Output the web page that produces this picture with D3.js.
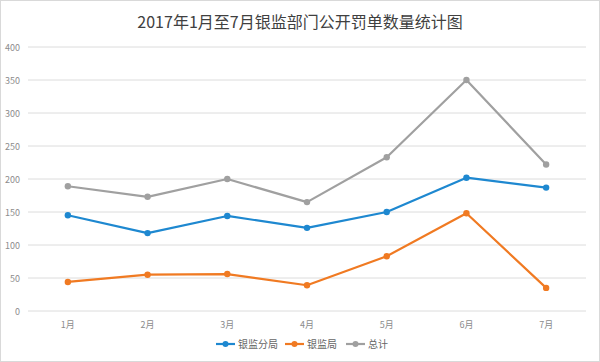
<!DOCTYPE html>
<html>
<head>
<meta charset="utf-8">
<script src="https://cdn.jsdelivr.net/npm/d3@7"></script>
<style>
  body { margin: 0; background: #fff; }
  svg { display: block; font-family: "Noto Sans CJK SC", "Noto Sans", sans-serif; }
</style>
</head>
<body>
<div id="chart"></div>
<script>
const months = ["1月", "2月", "3月", "4月", "5月", "6月", "7月"];
const fenju = [145, 118, 144, 126, 150, 202, 187];
const jianju = [44, 55, 56, 39, 83, 148, 35];
const total = [189, 173, 200, 165, 233, 350, 222];
const yTicks = [0, 50, 100, 150, 200, 250, 300, 350, 400];

const series = [
  { name: "银监分局", values: fenju, color: "#1e88d0" },
  { name: "银监局", values: jianju, color: "#f07a22" },
  { name: "总计", values: total, color: "#a0a0a0" }
];

const width = 600;
const height = 362;
const margin = { top: 47, right: 14, bottom: 51, left: 28 };

const svg = d3.select("#chart")
  .append("svg")
  .attr("width", width)
  .attr("height", height);

// frame
svg.append("rect")
  .attr("x", 0.5).attr("y", 0.5)
  .attr("width", width - 1).attr("height", height - 1)
  .attr("fill", "#fff")
  .attr("stroke", "#d9d9d9");

svg.append("text")
  .attr("x", width / 2)
  .attr("y", 28)
  .attr("text-anchor", "middle")
  .attr("font-size", 16)
  .attr("fill", "#404040")
  .text("2017年1月至7月银监部门公开罚单数量统计图");

const x = d3.scaleBand()
  .domain(months)
  .range([margin.left, width - margin.right]);

const y = d3.scaleLinear()
  .domain([0, 400])
  .range([height - margin.bottom, margin.top]);

// gridlines
svg.append("g")
  .selectAll("line")
  .data(yTicks)
  .enter()
  .append("line")
  .attr("x1", margin.left)
  .attr("x2", width - margin.right)
  .attr("y1", d => y(d))
  .attr("y2", d => y(d))
  .attr("stroke", "#dcdcdc")
  .attr("stroke-width", 1);

// y labels
svg.append("g")
  .selectAll("text")
  .data(yTicks)
  .enter()
  .append("text")
  .attr("x", 20)
  .attr("y", d => y(d) + 3.5)
  .attr("text-anchor", "end")
  .attr("font-size", 9)
  .attr("fill", "#8c8c8c")
  .text(d => d);

// x labels
svg.append("g")
  .selectAll("text")
  .data(months)
  .enter()
  .append("text")
  .attr("x", d => x(d) + x.bandwidth() / 2)
  .attr("y", height - margin.bottom + 17)
  .attr("text-anchor", "middle")
  .attr("font-size", 9)
  .attr("fill", "#8c8c8c")
  .text(d => d);

const line = d3.line()
  .x((d, i) => x(months[i]) + x.bandwidth() / 2)
  .y(d => y(d));

series.forEach(s => {
  const g = svg.append("g");
  g.append("path")
    .attr("d", line(s.values))
    .attr("fill", "none")
    .attr("stroke", s.color)
    .attr("stroke-width", 2.2)
    .attr("stroke-linejoin", "round");
  g.selectAll("circle")
    .data(s.values)
    .enter()
    .append("circle")
    .attr("cx", (d, i) => x(months[i]) + x.bandwidth() / 2)
    .attr("cy", d => y(d))
    .attr("r", 3.2)
    .attr("fill", s.color);
});

// Legend
const legendX = [216, 285, 346];
const legend = svg.append("g")
  .selectAll("g")
  .data(series)
  .enter()
  .append("g")
  .attr("transform", (d, i) => `translate(${legendX[i]},344)`);

legend.append("line")
  .attr("x1", 0).attr("x2", 19)
  .attr("stroke", d => d.color)
  .attr("stroke-width", 2.2);
legend.append("circle")
  .attr("cx", 9.5)
  .attr("r", 3)
  .attr("fill", d => d.color);
legend.append("text")
  .attr("x", 22)
  .attr("y", 3.5)
  .attr("font-size", 10)
  .attr("fill", "#666")
  .text(d => d.name);
</script>
</body>
</html>
